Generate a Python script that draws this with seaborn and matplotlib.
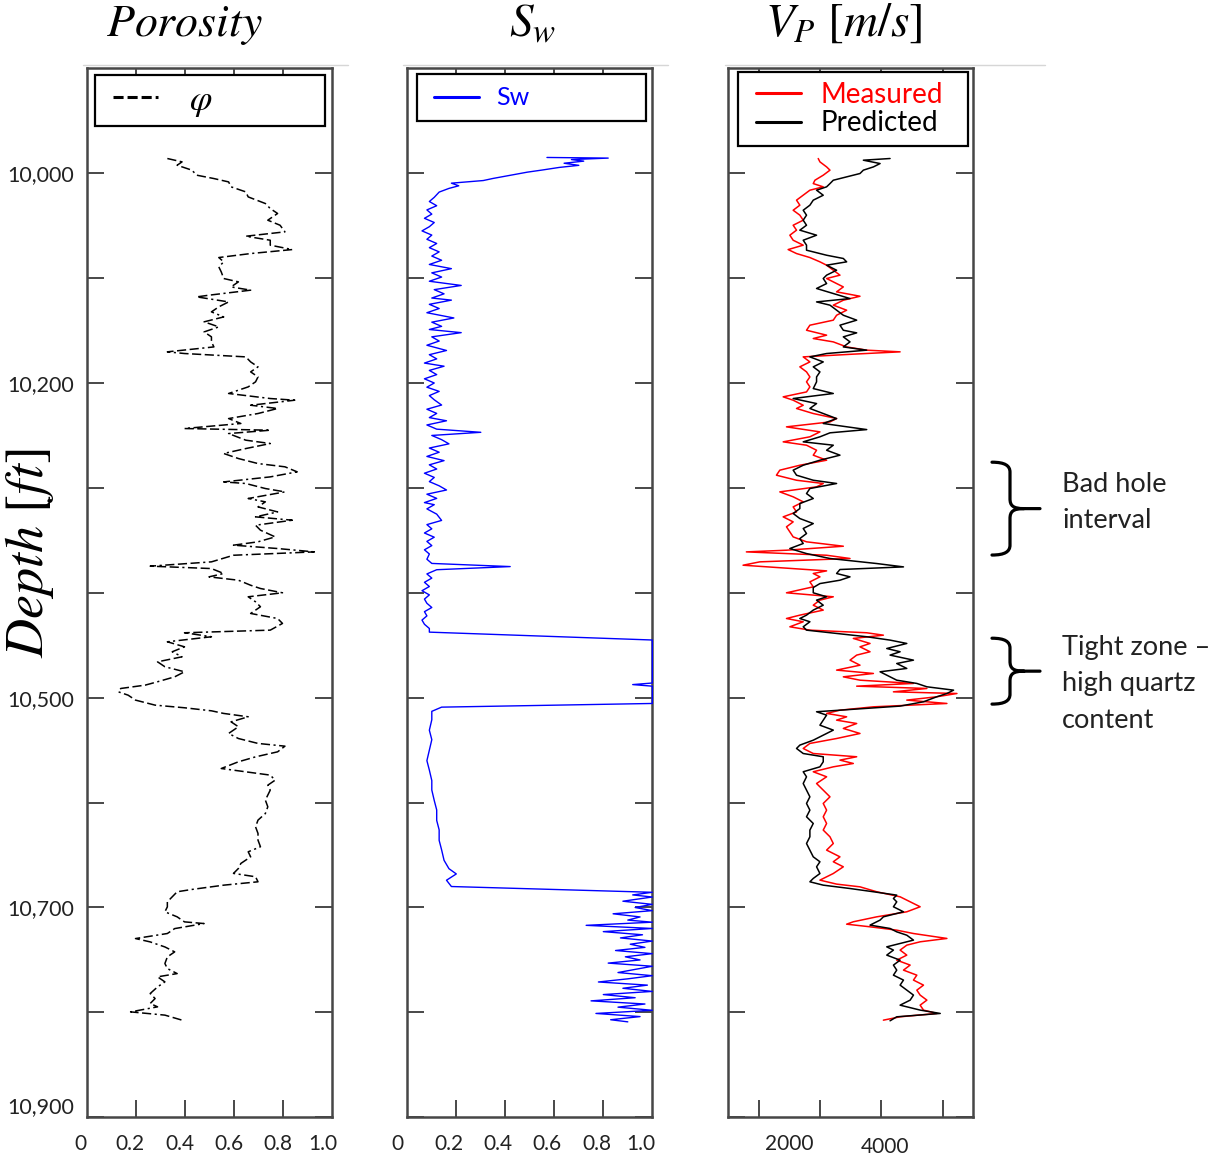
import numpy as np
import matplotlib
matplotlib.use("Agg")
import matplotlib.pyplot as plt
import seaborn as sns
from matplotlib.path import Path
from matplotlib.patches import PathPatch
from matplotlib.lines import Line2D
from matplotlib.legend_handler import HandlerLine2D
import matplotlib.transforms as mtransforms

# ---------------- data ----------------
phi_depth = [9986.0, 9989.2, 9992.4, 9997.1, 10001.9, 10005.1, 10008.3, 10013.0, 10017.8, 10022.6,
             10028.9, 10033.7, 10038.4, 10044.8, 10049.6, 10055.9, 10060.1, 10063.9, 10068.6, 10072.8,
             10076.6, 10080.4, 10084.5, 10089.3, 10094.1, 10100.4, 10103.6, 10108.4, 10111.5, 10116.3,
             10117.9, 10122.7, 10127.4, 10132.2, 10137.0, 10141.7, 10146.5, 10151.3, 10156.0, 10160.8,
             10165.6, 10170.3, 10171.9, 10175.1, 10179.9, 10184.6, 10189.4, 10194.2, 10198.9, 10203.7,
             10210.0, 10214.8, 10216.4, 10221.2, 10224.3, 10229.1, 10233.9, 10238.6, 10243.4, 10245.0,
             10248.2, 10254.5, 10257.7, 10262.5, 10267.2, 10272.0, 10276.8, 10279.9, 10284.7, 10289.5,
             10294.3, 10295.8, 10300.6, 10303.8, 10310.1, 10313.3, 10318.1, 10322.9, 10327.6, 10330.8,
             10335.6, 10340.3, 10346.7, 10351.4, 10354.6, 10357.8, 10361.0, 10364.2, 10370.5, 10374.6,
             10376.9, 10381.6, 10384.8, 10388.0, 10392.8, 10395.9,
             10400.0, 10403.8, 10408.6, 10413.3, 10419.7, 10424.5, 10429.2, 10435.6, 10438.1, 10441.9,
             10446.7, 10451.5, 10456.2, 10461.0, 10465.8, 10470.5, 10475.3, 10480.1, 10484.8, 10488.0,
             10491.2, 10494.4, 10497.6, 10502.3, 10507.1, 10509.6, 10512.5, 10515.0, 10518.2, 10523.0,
             10527.7, 10534.1, 10538.9, 10543.6, 10546.2, 10551.6, 10556.4, 10561.1, 10567.5, 10570.7,
             10573.8, 10578.6, 10583.4, 10588.1, 10592.9, 10597.6, 10604.0, 10610.4, 10616.7, 10623.1,
             10629.4, 10635.8, 10642.1, 10646.9, 10651.7, 10658.0, 10662.8, 10667.5, 10670.7, 10675.5,
             10678.7, 10682.8, 10685.0, 10689.8, 10694.6, 10699.4, 10704.1, 10708.9, 10713.7, 10715.3,
             10720.1, 10724.8, 10729.6, 10732.8, 10737.6, 10742.3, 10747.1, 10753.4, 10758.2, 10763.0,
             10766.1, 10770.9, 10775.7, 10782.0, 10786.8, 10791.5, 10794.7, 10799.5, 10802.6, 10807.4]
phi = [0.33, 0.39, 0.37, 0.43, 0.45, 0.52, 0.58, 0.59, 0.65, 0.66,
       0.73, 0.75, 0.78, 0.74, 0.79, 0.81, 0.65, 0.75, 0.75, 0.84,
       0.67, 0.54, 0.56, 0.54, 0.55, 0.56, 0.62, 0.59, 0.67, 0.50,
       0.45, 0.58, 0.54, 0.51, 0.56, 0.48, 0.54, 0.48, 0.51, 0.51,
       0.52, 0.33, 0.40, 0.65, 0.67, 0.70, 0.67, 0.70, 0.69, 0.66,
       0.58, 0.75, 0.85, 0.67, 0.78, 0.70, 0.58, 0.63, 0.40, 0.75,
       0.58, 0.65, 0.75, 0.65, 0.56, 0.62, 0.70, 0.81, 0.86, 0.75,
       0.56, 0.65, 0.73, 0.81, 0.66, 0.73, 0.70, 0.78, 0.69, 0.84,
       0.69, 0.71, 0.77, 0.70, 0.60, 0.78, 0.93, 0.60, 0.51, 0.26,
       0.51, 0.56, 0.50, 0.62, 0.67, 0.71,
       0.80, 0.66, 0.69, 0.71, 0.67, 0.78, 0.80, 0.75, 0.40, 0.51,
       0.33, 0.40, 0.35, 0.39, 0.29, 0.32, 0.40, 0.36, 0.29, 0.24,
       0.14, 0.13, 0.17, 0.20, 0.28, 0.40, 0.51, 0.56, 0.66, 0.59,
       0.62, 0.58, 0.62, 0.70, 0.81, 0.78, 0.69, 0.62, 0.55, 0.65,
       0.75, 0.77, 0.74, 0.75, 0.74, 0.73, 0.74, 0.73, 0.70, 0.69,
       0.70, 0.70, 0.71, 0.66, 0.67, 0.63, 0.62, 0.60, 0.69, 0.70,
       0.56, 0.43, 0.37, 0.35, 0.33, 0.33, 0.32, 0.37, 0.40, 0.48,
       0.36, 0.33, 0.20, 0.26, 0.32, 0.36, 0.33, 0.32, 0.33, 0.37,
       0.29, 0.32, 0.29, 0.26, 0.28, 0.26, 0.29, 0.18, 0.32, 0.39]

sw_depth = [9985.0, 9985.6, 9987.0, 9988.5, 9990.5, 9992.5, 9994.5, 9997.0, 9999.0, 10002.0,
            10005.0, 10007.0, 10009.5, 10012.0, 10014.5, 10018.0, 10023.0,
            10027, 10031, 10035, 10039, 10043, 10047, 10051, 10055, 10059, 10063,
            10067, 10071, 10075, 10079, 10083, 10087, 10091, 10095, 10099, 10103,
            10107, 10111, 10115, 10119, 10121, 10125, 10129, 10133, 10138, 10142,
            10146, 10149, 10152, 10156, 10160, 10164, 10169, 10173, 10177, 10181,
            10184, 10188, 10192, 10196, 10200, 10204, 10208, 10212, 10216, 10221,
            10225, 10229, 10233, 10236, 10240, 10244, 10247, 10250, 10254, 10258,
            10262, 10266, 10270, 10274, 10278, 10282, 10286, 10290, 10294, 10298,
            10302, 10306, 10310, 10314, 10316, 10320, 10325, 10331, 10335, 10339,
            10343, 10347, 10351, 10355, 10359, 10363, 10368, 10372, 10375, 10378,
            10382, 10386, 10390, 10394, 10398, 10402, 10406, 10410, 10414, 10418,
            10422, 10426, 10430, 10434, 10437.5,
            10445, 10465, 10486, 10487.5, 10489, 10505.5, 10509, 10513,
            10521, 10531, 10540, 10550, 10560, 10569, 10579, 10588, 10598, 10607,
            10617, 10626, 10636, 10645, 10655, 10663, 10668, 10674, 10680,
            10685.5, 10688, 10690, 10694, 10697, 10700, 10703, 10706, 10709, 10712,
            10714, 10717, 10720, 10723, 10726, 10729, 10732, 10735, 10738, 10741,
            10744, 10747, 10750, 10753, 10756, 10759, 10762, 10765, 10768, 10771,
            10774, 10777, 10780, 10783, 10786, 10789, 10792, 10795, 10798, 10801,
            10804, 10807, 10809]
sw = [0.57, 0.82, 0.67, 0.72, 0.64, 0.70, 0.62, 0.55, 0.49, 0.42,
      0.35, 0.31, 0.18, 0.21, 0.17, 0.13, 0.11,
      0.09, 0.12, 0.08, 0.10, 0.07, 0.11, 0.09, 0.06, 0.10, 0.08,
      0.12, 0.09, 0.13, 0.10, 0.14, 0.09, 0.18, 0.10, 0.14, 0.09,
      0.22, 0.11, 0.15, 0.10, 0.18, 0.09, 0.13, 0.08, 0.19, 0.10,
      0.14, 0.09, 0.22, 0.10, 0.13, 0.08, 0.16, 0.09, 0.12, 0.07,
      0.15, 0.09, 0.12, 0.07, 0.11, 0.08, 0.13, 0.09, 0.11, 0.14,
      0.08, 0.12, 0.09, 0.16, 0.08, 0.12, 0.30, 0.10, 0.14, 0.17,
      0.09, 0.13, 0.08, 0.15, 0.09, 0.12, 0.07, 0.11, 0.09, 0.13,
      0.16, 0.08, 0.12, 0.07, 0.11, 0.08, 0.12, 0.14, 0.08, 0.10,
      0.07, 0.11, 0.08, 0.10, 0.07, 0.09, 0.08, 0.10, 0.42, 0.12,
      0.08, 0.10, 0.07, 0.09, 0.06, 0.09, 0.07, 0.08, 0.10, 0.07,
      0.08, 0.06, 0.07, 0.09, 0.09,
      1.0, 1.0, 1.0, 0.92, 1.0, 1.0, 0.14, 0.10,
      0.10, 0.09, 0.10, 0.09, 0.08, 0.09, 0.10, 0.10, 0.11, 0.12,
      0.12, 0.13, 0.13, 0.14, 0.15, 0.17, 0.20, 0.16, 0.18,
      1.0, 0.92, 1.0, 0.88, 1.0, 0.93, 1.0, 0.84, 0.95, 0.90,
      1.0, 0.73, 1.0, 0.80, 0.96, 0.87, 1.0, 0.91, 0.97, 0.85,
      1.0, 0.89, 0.95, 0.82, 1.0, 0.93, 0.86, 1.0, 0.90, 0.78,
      0.98, 0.88, 1.0, 0.80, 0.93, 0.75, 0.97, 0.86, 1.0, 0.77,
      0.95, 0.83, 0.90]

vp_meas_depth = [9986.0, 9989.2, 9994.0, 9997.1, 10001.9, 10006.7, 10009.9, 10013.0, 10016.2, 10021.0,
                 10025.7, 10030.5, 10035.3, 10040.0, 10044.8, 10049.6, 10054.3, 10059.1, 10063.9, 10068.6,
                 10072.8, 10076.6, 10080.4, 10084.5, 10087.7, 10092.5, 10097.2, 10100.4, 10103.6, 10108.4,
                 10113.1, 10117.3, 10121.1, 10125.8, 10130.6, 10135.4, 10140.1, 10144.9, 10149.7, 10154.4,
                 10157.6, 10160.8, 10165.6, 10168.7, 10170.3, 10172.5, 10175.1, 10179.9, 10184.6, 10189.4,
                 10194.2, 10198.9, 10203.7, 10208.5, 10213.2, 10216.4, 10221.2, 10224.3, 10229.1, 10233.9,
                 10237.1, 10241.8, 10246.6, 10251.3, 10256.1, 10259.3, 10264.1, 10268.8, 10273.6, 10278.4,
                 10283.1, 10287.9, 10292.7, 10295.8, 10299.0, 10303.8, 10308.5, 10313.3, 10318.1, 10322.9,
                 10327.6, 10332.4, 10337.1, 10341.9, 10346.7, 10351.4, 10355.6, 10359.4, 10361.0, 10364.2,
                 10367.3, 10370.5, 10373.7, 10376.9, 10379.1, 10381.6, 10384.8, 10389.6, 10394.3,
                 10400.0, 10403.8, 10407.0, 10411.8, 10416.5, 10421.3, 10424.5, 10427.6, 10432.4, 10435.6,
                 10438.1, 10440.4, 10443.5, 10448.3, 10451.5, 10456.2, 10459.4, 10464.2, 10469.0, 10473.7,
                 10476.9, 10480.1, 10483.3, 10486.4, 10489.0, 10491.2, 10494.4, 10496.0, 10499.1, 10502.3,
                 10505.5, 10508.7, 10511.9, 10515.0, 10518.2, 10521.4, 10524.6, 10529.3, 10534.1, 10538.9,
                 10543.6, 10548.4, 10553.2, 10556.3, 10559.5, 10562.7, 10565.9, 10570.6, 10575.4, 10581.8,
                 10588.1, 10594.5, 10600.8, 10607.2, 10613.5, 10619.9, 10626.2, 10632.6, 10639.0, 10645.3,
                 10651.7, 10656.4, 10661.2, 10667.6, 10673.9, 10677.7, 10680.3, 10685.0, 10689.8, 10694.6,
                 10699.3, 10704.1, 10708.9, 10713.6, 10715.9, 10718.4, 10721.6, 10724.8, 10729.5, 10732.7,
                 10735.9, 10740.6, 10745.4, 10750.2, 10754.9, 10759.7, 10764.5, 10769.2, 10774.0, 10778.8,
                 10783.5, 10788.3, 10793.1, 10797.8, 10801.0, 10804.2, 10807.4]
vp_meas = [2968, 2996, 3105, 3160, 3050, 2914, 2887, 3050, 2832, 2723,
           2614, 2668, 2559, 2668, 2723, 2559, 2614, 2505, 2559, 2723,
           2477, 2614, 2832, 2996, 3105, 3214, 3323, 3105, 3214, 3378,
           3268, 3650, 3378, 3214, 3432, 3268, 3214, 2832, 2777, 3105,
           2887, 3214, 3432, 3760, 4305, 3541, 2723, 2832, 2668, 2777,
           2832, 2777, 2832, 2777, 2396, 2559, 2723, 2614, 2887, 3268,
           3160, 2450, 2996, 2832, 2396, 2777, 2941, 2887, 3105, 2668,
           2341, 2286, 2614, 3050, 2941, 2341, 2559, 2723, 2559, 2614,
           2396, 2559, 2450, 2505, 2559, 2777, 3378, 2450, 1795, 3105,
           3487, 2014, 1741, 2559, 3105, 2887, 2996, 2832, 2887,
           2450, 3214, 2996, 2887, 3050, 2668, 2450, 2723, 2505, 2832,
           3760, 4032, 3541, 3814, 3650, 3814, 3596, 3487, 3650, 3268,
           3869, 3378, 3650, 4523, 3596, 4742, 4196, 5233, 4905, 4414,
           5069, 3869, 3323, 3105, 3432, 3268, 3596, 3378, 3650, 3268,
           2832, 2723, 2887, 3596, 3323, 3541, 3214, 2887, 3105, 2941,
           3050, 3160, 3050, 3105, 3050, 3105, 3050, 3160, 3214, 3105,
           3323, 3214, 3378, 3214, 2996, 3268, 3650, 3923, 4305, 4469,
           4632, 4414, 3923, 3541, 3432, 3814, 4250, 4523, 5069, 4632,
           4414, 4305, 4414, 4250, 4469, 4360, 4578, 4523, 4687, 4578,
           4632, 4742, 4632, 4687, 4905, 4305, 4032]

vp_pred_depth = [9986.0, 9987.6, 9990.8, 9994.0, 9997.1, 10000.3, 10003.5, 10006.7, 10009.9, 10013.0,
                 10016.2, 10021.0, 10025.7, 10030.5, 10035.3, 10040.0, 10044.8, 10049.6, 10054.3, 10059.1,
                 10063.9, 10068.6, 10073.4, 10078.2, 10081.3, 10084.5, 10087.7, 10092.5, 10097.2, 10100.4,
                 10105.2, 10109.9, 10114.7, 10119.5, 10122.7, 10125.8, 10130.6, 10135.4, 10140.1, 10144.9,
                 10149.7, 10152.2, 10156.0, 10160.8, 10165.6, 10168.7, 10171.9, 10175.1, 10179.9, 10184.6,
                 10189.4, 10194.2, 10198.9, 10205.3, 10210.0, 10214.8, 10219.6, 10224.3, 10229.1, 10233.9,
                 10238.6, 10244.4, 10247.5, 10251.3, 10256.1, 10259.3, 10264.1, 10268.8, 10273.6, 10278.4,
                 10283.1, 10287.9, 10292.7, 10295.8, 10300.6, 10305.4, 10310.1, 10314.9, 10319.7, 10324.4,
                 10329.2, 10334.0, 10338.7, 10343.5, 10348.3, 10353.0, 10357.8, 10362.6, 10367.3, 10372.1,
                 10375.3, 10377.8, 10381.6, 10384.8, 10388.0, 10391.2, 10395.0,
                 10400.0, 10403.8, 10407.0, 10411.8, 10416.5, 10421.3, 10424.5, 10427.6, 10432.4, 10435.6,
                 10438.8, 10441.9, 10445.1, 10448.3, 10453.1, 10456.2, 10459.4, 10464.2, 10467.4, 10472.1,
                 10475.3, 10480.1, 10483.3, 10486.4, 10489.6, 10492.8, 10496.0, 10499.1, 10503.9, 10508.0,
                 10511.2, 10513.4, 10516.6, 10521.4, 10526.2, 10530.9, 10535.7, 10540.5, 10545.2, 10548.4,
                 10553.2, 10556.3, 10561.1, 10565.9, 10570.6, 10575.4, 10581.8, 10588.1, 10594.5, 10600.8,
                 10607.2, 10613.5, 10619.9, 10626.2, 10632.6, 10639.0, 10645.3, 10651.7, 10656.4, 10661.2,
                 10667.6, 10672.3, 10675.5, 10678.7, 10681.9, 10685.0, 10688.2, 10691.4, 10694.6, 10699.3,
                 10704.1, 10708.9, 10712.0, 10716.8, 10720.0, 10723.2, 10726.4, 10731.1, 10734.3, 10737.5,
                 10740.6, 10745.4, 10750.2, 10754.9, 10759.7, 10764.5, 10769.2, 10774.0, 10778.8, 10783.5,
                 10788.3, 10793.1, 10797.8, 10801.0, 10804.2, 10808.0]
vp_pred = [4141, 3705, 3978, 3869, 3705, 3650, 3432, 3214, 3160, 3105,
           2941, 3050, 2887, 2832, 2723, 2777, 2723, 2777, 2668, 2941,
           2723, 2777, 2777, 3105, 3378, 3432, 3105, 3268, 3105, 3050,
           3105, 2941, 3214, 3487, 2941, 3160, 3268, 3378, 3596, 3323,
           3378, 3596, 3378, 3487, 3378, 3760, 3105, 2832, 3050, 2887,
           2996, 2941, 2941, 2887, 3214, 2559, 2941, 2832, 3050, 3268,
           3050, 3760, 3160, 2996, 2723, 3214, 3105, 3323, 2996, 2723,
           2559, 2614, 2887, 3268, 2832, 2777, 2887, 2668, 2668, 2559,
           2668, 2887, 2723, 2777, 2668, 2723, 2505, 2777, 3160, 3923,
           4360, 3323, 3268, 3487, 3323, 2996, 2887,
           2887, 3105, 2941, 3050, 2887, 2777, 2668, 2832, 2723, 2777,
           3268, 3760, 4141, 4414, 4087, 4305, 4141, 4523, 4250, 4414,
           3978, 4141, 4250, 4578, 4742, 5178, 5069, 4905, 4687, 4305,
           3487, 2941, 3105, 3050, 2996, 3214, 3050, 2887, 2668, 2614,
           2723, 3050, 3050, 2996, 2723, 2777, 2723, 2777, 2832, 2777,
           2832, 2777, 2887, 2832, 2832, 2777, 2832, 2887, 2996, 2941,
           2996, 2887, 2832, 3050, 3487, 3869, 4250, 4196, 4250, 4196,
           4360, 4032, 3978, 3814, 4141, 4250, 4414, 4523, 4305, 4087,
           4196, 4087, 4305, 4196, 4250, 4196, 4360, 4305, 4414, 4523,
           4469, 4305, 4632, 4960, 4250, 4141]

depth_ticks = [10000, 10100, 10200, 10300, 10400, 10500, 10600, 10700, 10800, 10900]
depth_labels = ["10,000", "", "10,200", "", "", "10,500", "", "10,700", "", "10,900"]
frac_ticks = [0.2, 0.4, 0.6, 0.8]
frac_labels = [(0.0, "0"), (0.2, "0.2"), (0.4, "0.4"), (0.6, "0.6"), (0.8, "0.8"), (1.0, "1.0")]
vp_ticks = [2000, 3000, 4000, 5000]
vp_labels = [(2000, "2000"), (4000, "4000")]
annotations = [("Bad hole\ninterval", 10275.5, 10364.0),
               ("Tight zone \u2013\nhigh quartz\ncontent", 10443.3, 10506.1)]

for a, b in [(phi_depth, phi), (sw_depth, sw), (vp_meas_depth, vp_meas), (vp_pred_depth, vp_pred)]:
    assert len(a) == len(b), (len(a), len(b))

# ---------------- style ----------------
sns.set_theme(style="white")
plt.rcParams["font.family"] = ["Lato", "DejaVu Sans"]
plt.rcParams["mathtext.fontset"] = "stix"

W, H = 1225, 1156
fig = plt.figure(figsize=(W / 100, H / 100), dpi=100)
SPINE = "#474747"
TXT = "#222222"

left_px = [86.5, 407.3, 728.3]
top_px, bot_px = 68.3, 1117.3
axes = [fig.add_axes([l / W, 1 - bot_px / H, 245 / W, (bot_px - top_px) / H]) for l in left_px]
ax1, ax2, ax3 = axes

common = dict(orient="y", sort=False, estimator=None, legend=False)
sns.lineplot(x=phi, y=phi_depth, ax=ax1, color="black", linewidth=1.1, **common)
ax1.lines[-1].set_dashes([6.0, 2.3, 6.0, 2.3, 6.0, 2.3, 1.4, 2.3])
sns.lineplot(x=sw, y=sw_depth, ax=ax2, color="#0000ff", linewidth=1.0, **common)
ax2.lines[-1].set_zorder(3)
ax2.lines[-1].set_clip_on(False)
sns.lineplot(x=vp_meas, y=vp_meas_depth, ax=ax3, color="#ff0000", linewidth=1.1, **common)
sns.lineplot(x=vp_pred, y=vp_pred_depth, ax=ax3, color="black", linewidth=1.1, **common)

xlims = [(0, 1), (0, 1), (1500, 5500)]
xticks = [frac_ticks, frac_ticks, vp_ticks]
for ax, xl, xt in zip(axes, xlims, xticks):
    ax.set_xlim(*xl)
    ax.set_ylim(10900, 9900)
    ax.set_xlabel("")
    ax.set_ylabel("")
    ax.set_xticks(xt)
    ax.set_xticklabels([])
    ax.set_yticks(depth_ticks)
    ax.set_yticklabels([])
    ax.tick_params(axis="both", direction="in", length=12, width=1.4, color=SPINE,
                   left=True, right=True, top=True, bottom=True,
                   labelleft=False, labelbottom=False)
    for s in ax.spines.values():
        s.set_visible(True)
        s.set_color(SPINE)
        s.set_linewidth(1.8)

ax1.set_yticklabels(depth_labels)
ax1.tick_params(axis="y", labelleft=True, pad=9, labelsize=15.5, labelcolor=TXT)
for lbl in ax1.get_yticklabels():
    if lbl.get_text() == "10,900":
        lbl.set_verticalalignment("bottom")

# bottom tick labels (positions nudged like the reference)
nudges = [
    (ax1, frac_labels, [-6.5, -5.5, -4.5, -4.5, -4.5, -8.5], -33),
    (ax2, frac_labels, [-10, -7, -7, -7, -6, -11], -33),
    (ax3, vp_labels, [30, 4], -33),
]
for ax, labs, dxs, dy in nudges:
    for (v, t), dx in zip(labs, dxs):
        extra = -3 if t == "4000" else 0
        ax.annotate(t, xy=(v, 0), xycoords=ax.get_xaxis_transform(),
                    xytext=(dx, dy + extra), textcoords="offset pixels",
                    ha="center", va="baseline", fontsize=15, color=TXT,
                    annotation_clip=False)

# legends
def add_legend(ax, handles, labels, x0, w, ytop, fs, handlelength, borderpad, xpad,
               labelspacing=0.0, handletextpad=0.7):
    leg = ax.legend(handles, labels, loc="upper left",
                    bbox_to_anchor=(x0, ytop - 0.05, w, 0.05), mode="expand",
                    borderaxespad=0, frameon=True, fancybox=False, edgecolor="black",
                    framealpha=1, prop={"family": "Lato", "size": fs},
                    handlelength=handlelength + xpad, handletextpad=handletextpad,
                    borderpad=borderpad, labelspacing=labelspacing, labelcolor="linecolor",
                    handler_map={Line2D: HandlerLine2D(xpad=xpad)})
    leg.get_frame().set_linewidth(1.6)
    return leg

h_phi = Line2D([], [], color="black", lw=2.2, dashes=[3.3, 1.3, 3.3, 1.3, 3.3, 1.3, 1.0, 1.3])
add_legend(ax1, [h_phi], ["$\\varphi$"], 0.035, 0.939, 0.9933, 26, 1.25, 0.2, 0.29,
           handletextpad=0.85)
h_sw = Line2D([], [], color="#0000ff", lw=2.2)
add_legend(ax2, [h_sw], ["Sw"], 0.040, 0.935, 0.9943, 18, 1.8, 0.48, 0.2)
h_m = Line2D([], [], color="#ff0000", lw=2.2)
h_p = Line2D([], [], color="black", lw=2.2)
add_legend(ax3, [h_m, h_p], ["Measured", "Predicted"], 0.040, 0.939, 0.996, 20, 1.62, 0.35, 0.29,
           labelspacing=0.08)

# titles and depth label
fig.text(184 / W, 1 - 36 / H, r"$Porosity$", ha="center", va="baseline", fontsize=33, color="black")
fig.text(533 / W, 1 - 36 / H, r"$S_w$", ha="center", va="baseline", fontsize=34, color="black")
fig.text(844 / W, 1 - 36 / H, r"$V_P\ [m/s]$", ha="center", va="baseline", fontsize=34, color="black")
fig.text(30 / W, 1 - 553 / H, r"$Depth\ [ft]$", ha="center", va="center", rotation=90,
         fontsize=39, color="black")

# faint grey lines above each track
for x0, x1 in [(83, 348), (403, 668), (725, 1045)]:
    fig.add_artist(Line2D([x0 / W, x1 / W], [1 - 64.5 / H, 1 - 64.5 / H],
                          transform=fig.transFigure, color="#d6d6d6", lw=1))

# braces + annotation text on the right of the Vp track
trans = mtransforms.blended_transform_factory(fig.transFigure, ax3.transData)
def brace_path(top, bottom):
    mid = 0.5 * (top + bottom)
    h = 9.5
    X = lambda p: p / W
    verts = [(X(992), top), (X(1005), top), (X(1010), top + 0.35 * h), (X(1010), top + h),
             (X(1010), mid - h),
             (X(1010), mid - 0.3 * h), (X(1013), mid), (X(1024), mid),
             (X(1040), mid),
             (X(1024), mid), (X(1013), mid), (X(1010), mid + 0.3 * h), (X(1010), mid + h),
             (X(1010), bottom - h),
             (X(1010), bottom - 0.35 * h), (X(1005), bottom), (X(992), bottom)]
    M, C, L = Path.MOVETO, Path.CURVE4, Path.LINETO
    codes = [M, C, C, C, L, C, C, C, L, M, C, C, C, L, C, C, C]
    return Path(verts, codes)

for text, d0, d1 in annotations:
    fig.add_artist(PathPatch(brace_path(d0, d1), transform=trans, fill=False,
                             lw=2.3, ec="black", capstyle="round", joinstyle="round"))
fig.text(1062 / W, 1 - 502.5 / H, annotations[0][0], ha="left", va="center",
         fontsize=19.5, color=TXT, linespacing=1.6)
fig.text(1062 / W, 1 - 684 / H, annotations[1][0], ha="left", va="center",
         fontsize=19.5, color=TXT, linespacing=1.6)

fig.savefig("out.png", dpi=100)
